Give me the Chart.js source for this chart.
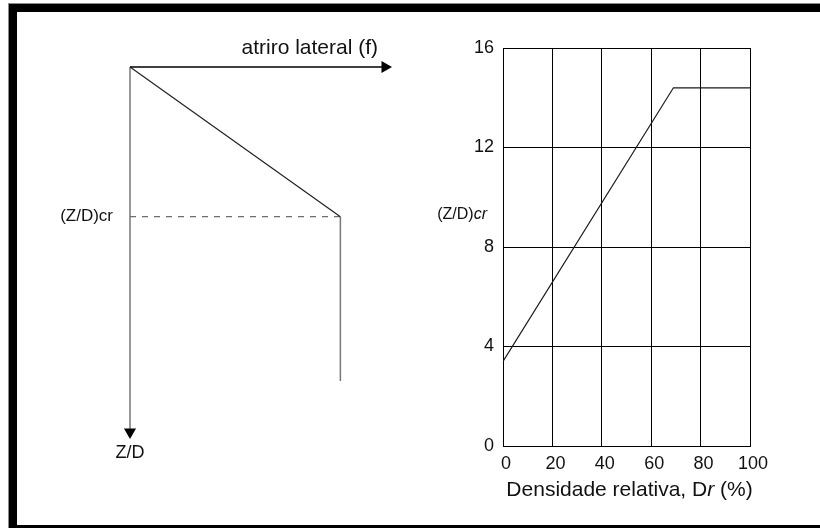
<!DOCTYPE html>
<html lang="pt">
<head>
<meta charset="utf-8">
<title>(Z/D)cr x Densidade relativa</title>
<script src="https://cdn.jsdelivr.net/npm/chart.js@4.4.1/dist/chart.umd.min.js"></script>
<style>
  html, body { margin: 0; padding: 0; background: #fff; }
  body { width: 820px; height: 528px; position: relative; overflow: hidden; }
  #moldura {
    position: absolute; left: 9px; top: 4px;
    width: 900px; height: 513px;
    border: 8px solid #000;
    box-shadow: 0 0 0 1px #8a8a8a;
  }
  canvas { position: absolute; top: 0; }
  #perfil { left: 0; }
  #grafico { left: 410px; }
</style>
</head>
<body>
<div id="moldura"></div>
<canvas id="perfil" width="410" height="528"></canvas>
<canvas id="grafico" width="410" height="528"></canvas>
<script>
// Perfil esquemático do atrito lateral ao longo da profundidade
const fAxisMax = 12;
const zAxisMax = 20;
const fProfile = [0, 9.9, 9.9];
const zProfile = [0, 8.2, 17.2];

// (Z/D)cr em função da densidade relativa
const dr = [0, 69, 100];
const zdCr = [3.4, 14.4, 14.4];
const drTicks = [0, 20, 40, 60, 80, 100];
const zdTicks = [0, 4, 8, 12, 16];

const FONT = "'Liberation Sans', Arial, sans-serif";
Chart.defaults.font.family = FONT;
Chart.defaults.color = "#111";

const pts = (xs, ys) => xs.map((x, i) => ({ x, y: ys[i] }));

// desenha texto com um trecho em itálico no fim
function drawMixed(ctx, parts, x, y, size, align) {
  let total = 0;
  parts.forEach(([txt, it]) => {
    ctx.font = `${it ? "italic " : ""}${size}px ${FONT}`;
    total += ctx.measureText(txt).width;
  });
  let cx = align === "right" ? x - total : align === "center" ? x - total / 2 : x;
  ctx.textAlign = "left";
  ctx.textBaseline = "middle";
  parts.forEach(([txt, it]) => {
    ctx.font = `${it ? "italic " : ""}${size}px ${FONT}`;
    ctx.fillText(txt, cx, y);
    cx += ctx.measureText(txt).width;
  });
}

// === Esquema da esquerda ===
const perfilLabels = {
  id: "perfilLabels",
  afterDraw(chart) {
    const { ctx, scales } = chart;
    const x0 = scales.x.getPixelForValue(0);
    const y0 = scales.y.getPixelForValue(0);
    ctx.save();
    ctx.fillStyle = "#111";
    drawMixed(ctx, [["atriro lateral (f)", false]], scales.x.getPixelForValue(fAxisMax) - 7, y0 - 19, 21, "right");
    drawMixed(ctx, [["(Z/D)cr", false]], x0 - 17, scales.y.getPixelForValue(zProfile[1]), 17, "right");
    drawMixed(ctx, [["Z/D", false]], x0, scales.y.getPixelForValue(zAxisMax) + 21, 18, "center");
    ctx.restore();
  },
};

new Chart(document.getElementById("perfil"), {
  type: "line",
  data: {
    datasets: [
      {
        data: pts([0, fAxisMax], [0, 0]),
        borderColor: "#000",
        borderWidth: 1.5,
        pointRadius: [0, 7],
        pointStyle: "triangle",
        rotation: 90,
        pointBackgroundColor: "#000",
        pointBorderWidth: 0,
      },
      {
        data: pts([0, 0], [0, zAxisMax]),
        borderColor: "#777",
        borderWidth: 1.5,
        pointRadius: [0, 7],
        pointStyle: "triangle",
        rotation: 180,
        pointBackgroundColor: "#000",
        pointBorderWidth: 0,
      },
      {
        data: pts(fProfile.slice(0, 2), zProfile.slice(0, 2)),
        borderColor: "#222",
        borderWidth: 1.2,
        pointRadius: 0,
      },
      {
        data: pts(fProfile.slice(1), zProfile.slice(1)),
        borderColor: "#777",
        borderWidth: 1.5,
        pointRadius: 0,
      },
      {
        data: pts([0, fProfile[1]], [zProfile[1], zProfile[1]]),
        borderColor: "#666",
        borderWidth: 1.2,
        borderDash: [6, 6],
        pointRadius: 0,
      },
    ],
  },
  options: {
    responsive: false,
    devicePixelRatio: 1,
    animation: false,
    layout: { padding: { left: 130, top: 67, right: 25, bottom: 96 } },
    elements: { line: { tension: 0 } },
    clip: false,
    plugins: { legend: { display: false }, tooltip: { enabled: false } },
    scales: {
      x: { type: "linear", display: false, min: 0, max: fAxisMax },
      y: { type: "linear", display: false, min: 0, max: zAxisMax, reverse: true },
    },
  },
  plugins: [perfilLabels],
});

// === Gráfico da direita ===
const graficoLabels = {
  id: "graficoLabels",
  afterDraw(chart) {
    const { ctx, chartArea } = chart;
    ctx.save();
    ctx.fillStyle = "#111";
    drawMixed(ctx, [["(Z/D)", false], ["cr", true]], chartArea.left - 16, chartArea.top + 167, 16, "right");
    drawMixed(
      ctx,
      [["Densidade relativa, D", false], ["r", true], [" (%)", false]],
      (chartArea.left + chartArea.right) / 2 + 3,
      chartArea.bottom + 44,
      21,
      "center"
    );
    ctx.restore();
  },
};

new Chart(document.getElementById("grafico"), {
  type: "line",
  data: {
    datasets: [
      {
        data: pts(dr, zdCr),
        borderColor: "#1a1a1a",
        borderWidth: 1.2,
        pointRadius: 0,
        tension: 0,
      },
    ],
  },
  options: {
    responsive: false,
    devicePixelRatio: 1,
    animation: false,
    layout: { padding: { left: 0, top: 48, right: 70, bottom: 0 } },
    plugins: { legend: { display: false }, tooltip: { enabled: false } },
    scales: {
      x: {
        type: "linear",
        min: 0,
        max: 100,
        afterBuildTicks: (s) => { s.ticks = drTicks.map((value) => ({ value })); },
        afterFit: (s) => { s.height = 82; },
        grid: { color: "#000", lineWidth: 1, drawTicks: false },
        border: { color: "#000", width: 1 },
        ticks: { font: { size: 18 }, padding: 7, labelOffset: 3, maxRotation: 0, color: "#111" },
      },
      y: {
        type: "linear",
        min: 0,
        max: 16,
        afterBuildTicks: (s) => { s.ticks = zdTicks.map((value) => ({ value })); },
        afterFit: (s) => { s.width = 93; },
        grid: { color: "#000", lineWidth: 1, drawTicks: false },
        border: { color: "#000", width: 1 },
        ticks: { font: { size: 18 }, padding: 9, color: "#111" },
      },
    },
  },
  plugins: [graficoLabels],
});
</script>
</body>
</html>
